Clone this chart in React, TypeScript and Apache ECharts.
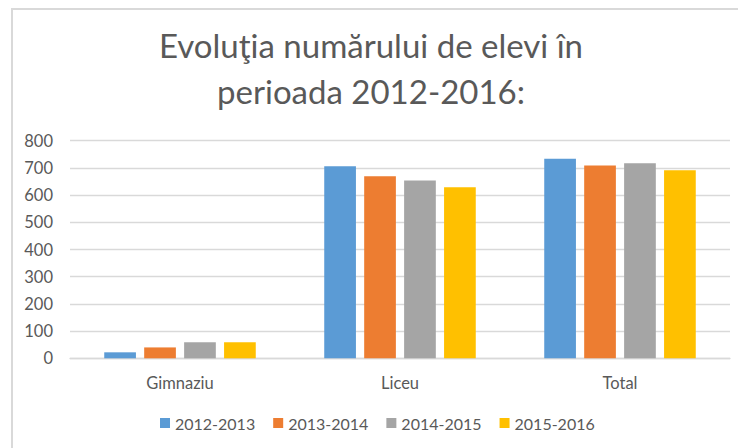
import React, { useEffect, useRef } from "react";
import * as echarts from "echarts";

const categories = ["Gimnaziu", "Liceu", "Total"];
const seriesNames = ["2012-2013", "2013-2014", "2014-2015", "2015-2016"];
const values2012 = [22, 706, 734];
const values2013 = [40, 669, 709];
const values2014 = [59, 654, 717];
const values2015 = [59, 629, 691];
const colors = ["#5B9BD5", "#ED7D31", "#A5A5A5", "#FFC000"];
const titleText = "Evoluţia numărului de elevi în\nperioada 2012-2016:";

export default function App() {
  const ref = useRef<HTMLDivElement>(null);
  useEffect(() => {
    if (!ref.current) return;
    const chart = echarts.init(ref.current, undefined, { renderer: "svg" });
    const data = [values2012, values2013, values2014, values2015];
    const font = "Lato, 'Open Sans', sans-serif";
    chart.setOption({
      animation: false,
      backgroundColor: "#ffffff",
      color: colors,
      textStyle: { fontFamily: font },
      title: {
        text: titleText,
        left: 371,
        top: 22,
        padding: 0,
        textAlign: "center",
        textStyle: {
          fontFamily: font,
          fontSize: 33,
          fontWeight: "normal",
          color: "#595959",
          lineHeight: 46,
        },
      },
      graphic: [
        {
          type: "rect",
          shape: { x: 12, y: 9, width: 760, height: 460 },
          style: { fill: "none", stroke: "#d9d9d9", lineWidth: 2 },
          silent: true,
        },
      ],
      legend: {
        data: seriesNames,
        bottom: 12,
        left: 155,
        itemWidth: 10,
        itemHeight: 10,
        itemGap: 18,
        icon: "rect",
        textStyle: { fontFamily: font, fontSize: 16, color: "#595959" },
      },
      grid: { left: 70, right: 8, top: 140.7, bottom: 89.7, containLabel: false },
      xAxis: {
        type: "category",
        data: categories,
        axisLine: { show: true, lineStyle: { color: "#d9d9d9", width: 1.3 } },
        axisTick: { show: false },
        axisLabel: { fontFamily: font, fontSize: 16.5, color: "#595959", margin: 16 },
      },
      yAxis: {
        type: "value",
        min: 0,
        max: 800,
        interval: 100,
        axisLine: { show: false },
        axisTick: { show: false },
        splitLine: { lineStyle: { color: "#d9d9d9", width: 1.3 } },
        axisLabel: { fontFamily: font, fontSize: 16.5, color: "#595959", margin: 17 },
      },
      series: seriesNames.map((name, i) => ({
        name,
        type: "bar",
        data: data[i],
        barWidth: 31.7,
        barGap: "26%",
        itemStyle: { color: colors[i] },
      })),
    });
    return () => chart.dispose();
  }, []);
  return (
    <div
      ref={ref}
      style={{ position: "fixed", left: 0, top: 0, width: 738, height: 448 }}
    />
  );
}
